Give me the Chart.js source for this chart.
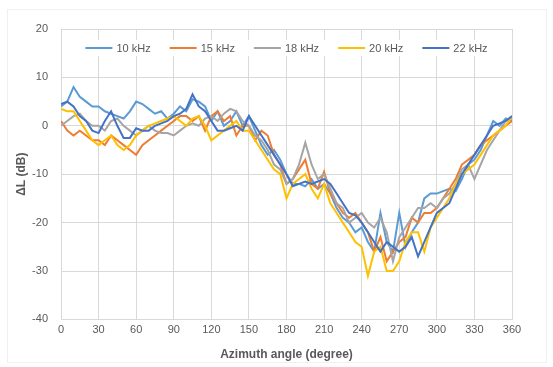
<!DOCTYPE html>
<html lang="en">
<head>
    <meta charset="UTF-8">
    <title>ΔL vs azimuth angle</title>
    <script src="https://cdn.jsdelivr.net/npm/chart.js"></script>
    <style>
        html, body {
            margin: 0;
            padding: 0;
            background: #ffffff;
        }
        .frame {
            position: absolute;
            left: 7px;
            top: 9px;
            width: 538px;
            height: 352px;
            border: 1px solid #f0f0f0;
        }
        .wrap {
            position: relative;
            width: 553px;
            height: 367px;
        }
    </style>
</head>
<body>
    <div class="wrap">
        <div class="frame"></div>
        <canvas id="chart" width="553" height="367"></canvas>
    </div>

    <script>
        // azimuth every 5 degrees, 0..360
        const angles = Array.from({ length: 73 }, (_, i) => i * 5);
        const xTicks = [0, 30, 60, 90, 120, 150, 180, 210, 240, 270, 300, 330, 360];
        const yTicks = [-40, -30, -20, -10, 0, 10, 20];
        const seriesNames = ['10 kHz', '15 kHz', '18 kHz', '20 kHz', '22 kHz'];
        const seriesColors = ['#5B9BD5', '#ED7D31', '#A5A5A5', '#FFC000', '#4472C4'];

        const khz10 = [4, 5, 8, 6, 5, 4, 4, 3, 2.5, 2, 1.5, 3, 5, 4.5, 3.5, 2.5, 3, 1.5, 2.5, 4, 3, 5.5, 5, 4, 1,
            3, 0, 1, 3, 0, 2, -1, -4, -6, -5, -7, -10, -12, -12, -12.5, -11, -13, -12, -14, -17, -19, -20, -22, -21,
            -24, -26, -18, -24, -26, -18, -25, -22, -20, -15, -14, -14, -13.5, -13, -13.5, -11, -8, -7, -5, -2, 1, 0, 1.5, 1];
        const khz15 = [1, -1, -2, -1, -2, -3, -3, -4, -2, -3, -4, -5, -6, -4, -3, -2, -1, 0, 1, 2, 2, 1, 2, -1, 2,
            3, 1, 2, -2, 0, 0, -3, -1, -2, -6, -8, -12, -11, -9, -7, -12, -13, -9.5, -14, -16, -18, -19, -18, -20,
            -22, -26, -23, -28, -26, -24, -23, -19, -20, -18, -18, -17, -15, -13, -11, -8, -7, -6, -4, -3, -2, -1, 0, 1];
        const khz18 = [0, 1, 2, 2.5, 1, 0, 0, -1, 1, 1.5, 0, -1, -2, -1, 0, -1, -1.5, -1.5, -2, -1, 0, 0.5, 0, 1.5, 2,
            1, 2.5, 3.5, 3, 1, 0, -2, -3, -5, -8, -9, -12, -11, -8, -3.5, -8, -11, -10, -13, -16, -17, -20, -19, -18,
            -20, -21, -19, -22, -28, -23, -21, -19, -17, -17, -16, -17, -15, -14, -12, -9, -8, -11, -8, -5, -3, -1, 1, 1.5];
        const khz20 = [3.5, 3, 3, 1, -1, -3, -4, -3, -2, -4, -5, -4, -2, -1, 0, 0.5, 1, 1.5, 2, 1, 0, 1.5, 2, 0, -3,
            -2, -1, 0, 1, -1, -1, -3, -5, -7, -9, -10, -15, -12, -11, -10, -13, -15, -12, -16, -18, -20, -22, -24, -25,
            -31, -26, -25, -30, -30, -28, -24, -22, -22, -26, -21, -19, -17, -15, -12, -10, -9, -8, -6, -4, -2, -1, 0, 2];
        const khz22 = [4.5, 5, 4, 2, 1, -1, -1.5, 1, 3, 0, -2.5, -2.5, -0.5, -1, -1, 0, 0.5, 1, 2, 2.5, 3.5, 6.5, 4, 3, 1,
            -1, -1, -0.5, 0, -1, 2, 0, -2, -4, -6, -8, -10, -12.5, -12, -11.5, -12, -11.5, -11, -12, -14, -16, -18, -18.5, -20,
            -22, -24, -26, -24, -25, -26, -25, -23, -27, -24, -21, -18, -17, -16, -13, -10, -8, -6, -4, -2, 0, 0.5, 1, 2];

        const seriesValues = [khz10, khz15, khz18, khz20, khz22];

        const datasets = seriesNames.map((name, i) => ({
            label: name,
            data: angles.map((a, j) => ({ x: a, y: seriesValues[i][j] })),
            borderColor: seriesColors[i],
            backgroundColor: seriesColors[i],
            borderWidth: 2,
            pointRadius: 0,
            tension: 0,
            order: seriesNames.length - i
        }));

        const fontFamily = 'Liberation Sans, Arial, sans-serif';
        const tickFont = { family: fontFamily, size: 11 };
        const titleFont = { family: fontFamily, size: 12, weight: 'bold' };

        // legend drawn in a row inside the plot, near the top
        const insideLegend = {
            id: 'insideLegend',
            afterDatasetsDraw(chart) {
                const ctx = chart.ctx;
                const area = chart.chartArea;
                const lineW = 27, gap = 4, spacing = 19;
                ctx.save();
                ctx.font = '11px ' + fontFamily;
                const widths = seriesNames.map(n => lineW + gap + ctx.measureText(n).width);
                const total = widths.reduce((a, b) => a + b, 0) + spacing * (seriesNames.length - 1);
                let x = (area.left + area.right) / 2 - total / 2;
                const y = area.top + 19;
                ctx.fillStyle = '#ffffff';
                ctx.fillRect(x - 4, y - 8, total + 8, 16);
                seriesNames.forEach((n, i) => {
                    ctx.strokeStyle = seriesColors[i];
                    ctx.lineWidth = 2;
                    ctx.beginPath();
                    ctx.moveTo(x, y);
                    ctx.lineTo(x + lineW, y);
                    ctx.stroke();
                    ctx.fillStyle = '#595959';
                    ctx.textBaseline = 'middle';
                    ctx.fillText(n, x + lineW + gap, y + 0.5);
                    x += widths[i] + spacing;
                });
                ctx.restore();
            }
        };

        new Chart(document.getElementById('chart'), {
            type: 'line',
            data: { datasets },
            plugins: [insideLegend],
            options: {
                responsive: false,
                animation: false,
                layout: { padding: { top: 29, right: 41, bottom: 5, left: 14 } },
                plugins: {
                    tooltip: { enabled: false },
                    legend: { display: false }
                },
                scales: {
                    x: {
                        type: 'linear',
                        min: 0,
                        max: 360,
                        afterBuildTicks: s => { s.ticks = xTicks.map(v => ({ value: v })); },
                        grid: { color: '#d9d9d9', drawTicks: false },
                        border: { color: '#d9d9d9' },
                        ticks: { color: '#595959', font: tickFont, padding: 4, maxRotation: 0 },
                        title: { display: true, text: 'Azimuth angle (degree)', color: '#595959', font: titleFont, padding: { top: 7, bottom: 0 } }
                    },
                    y: {
                        min: -40,
                        max: 20,
                        afterBuildTicks: s => { s.ticks = yTicks.map(v => ({ value: v })); },
                        afterFit: s => { s.width = 47; },
                        grid: { color: '#d9d9d9', drawTicks: false },
                        border: { color: '#d9d9d9' },
                        ticks: { color: '#595959', font: tickFont, padding: 13 },
                        title: { display: true, text: 'ΔL (dB)', color: '#595959', font: titleFont, padding: { top: 0, bottom: 0 } }
                    }
                }
            }
        });
    </script>
</body>
</html>
